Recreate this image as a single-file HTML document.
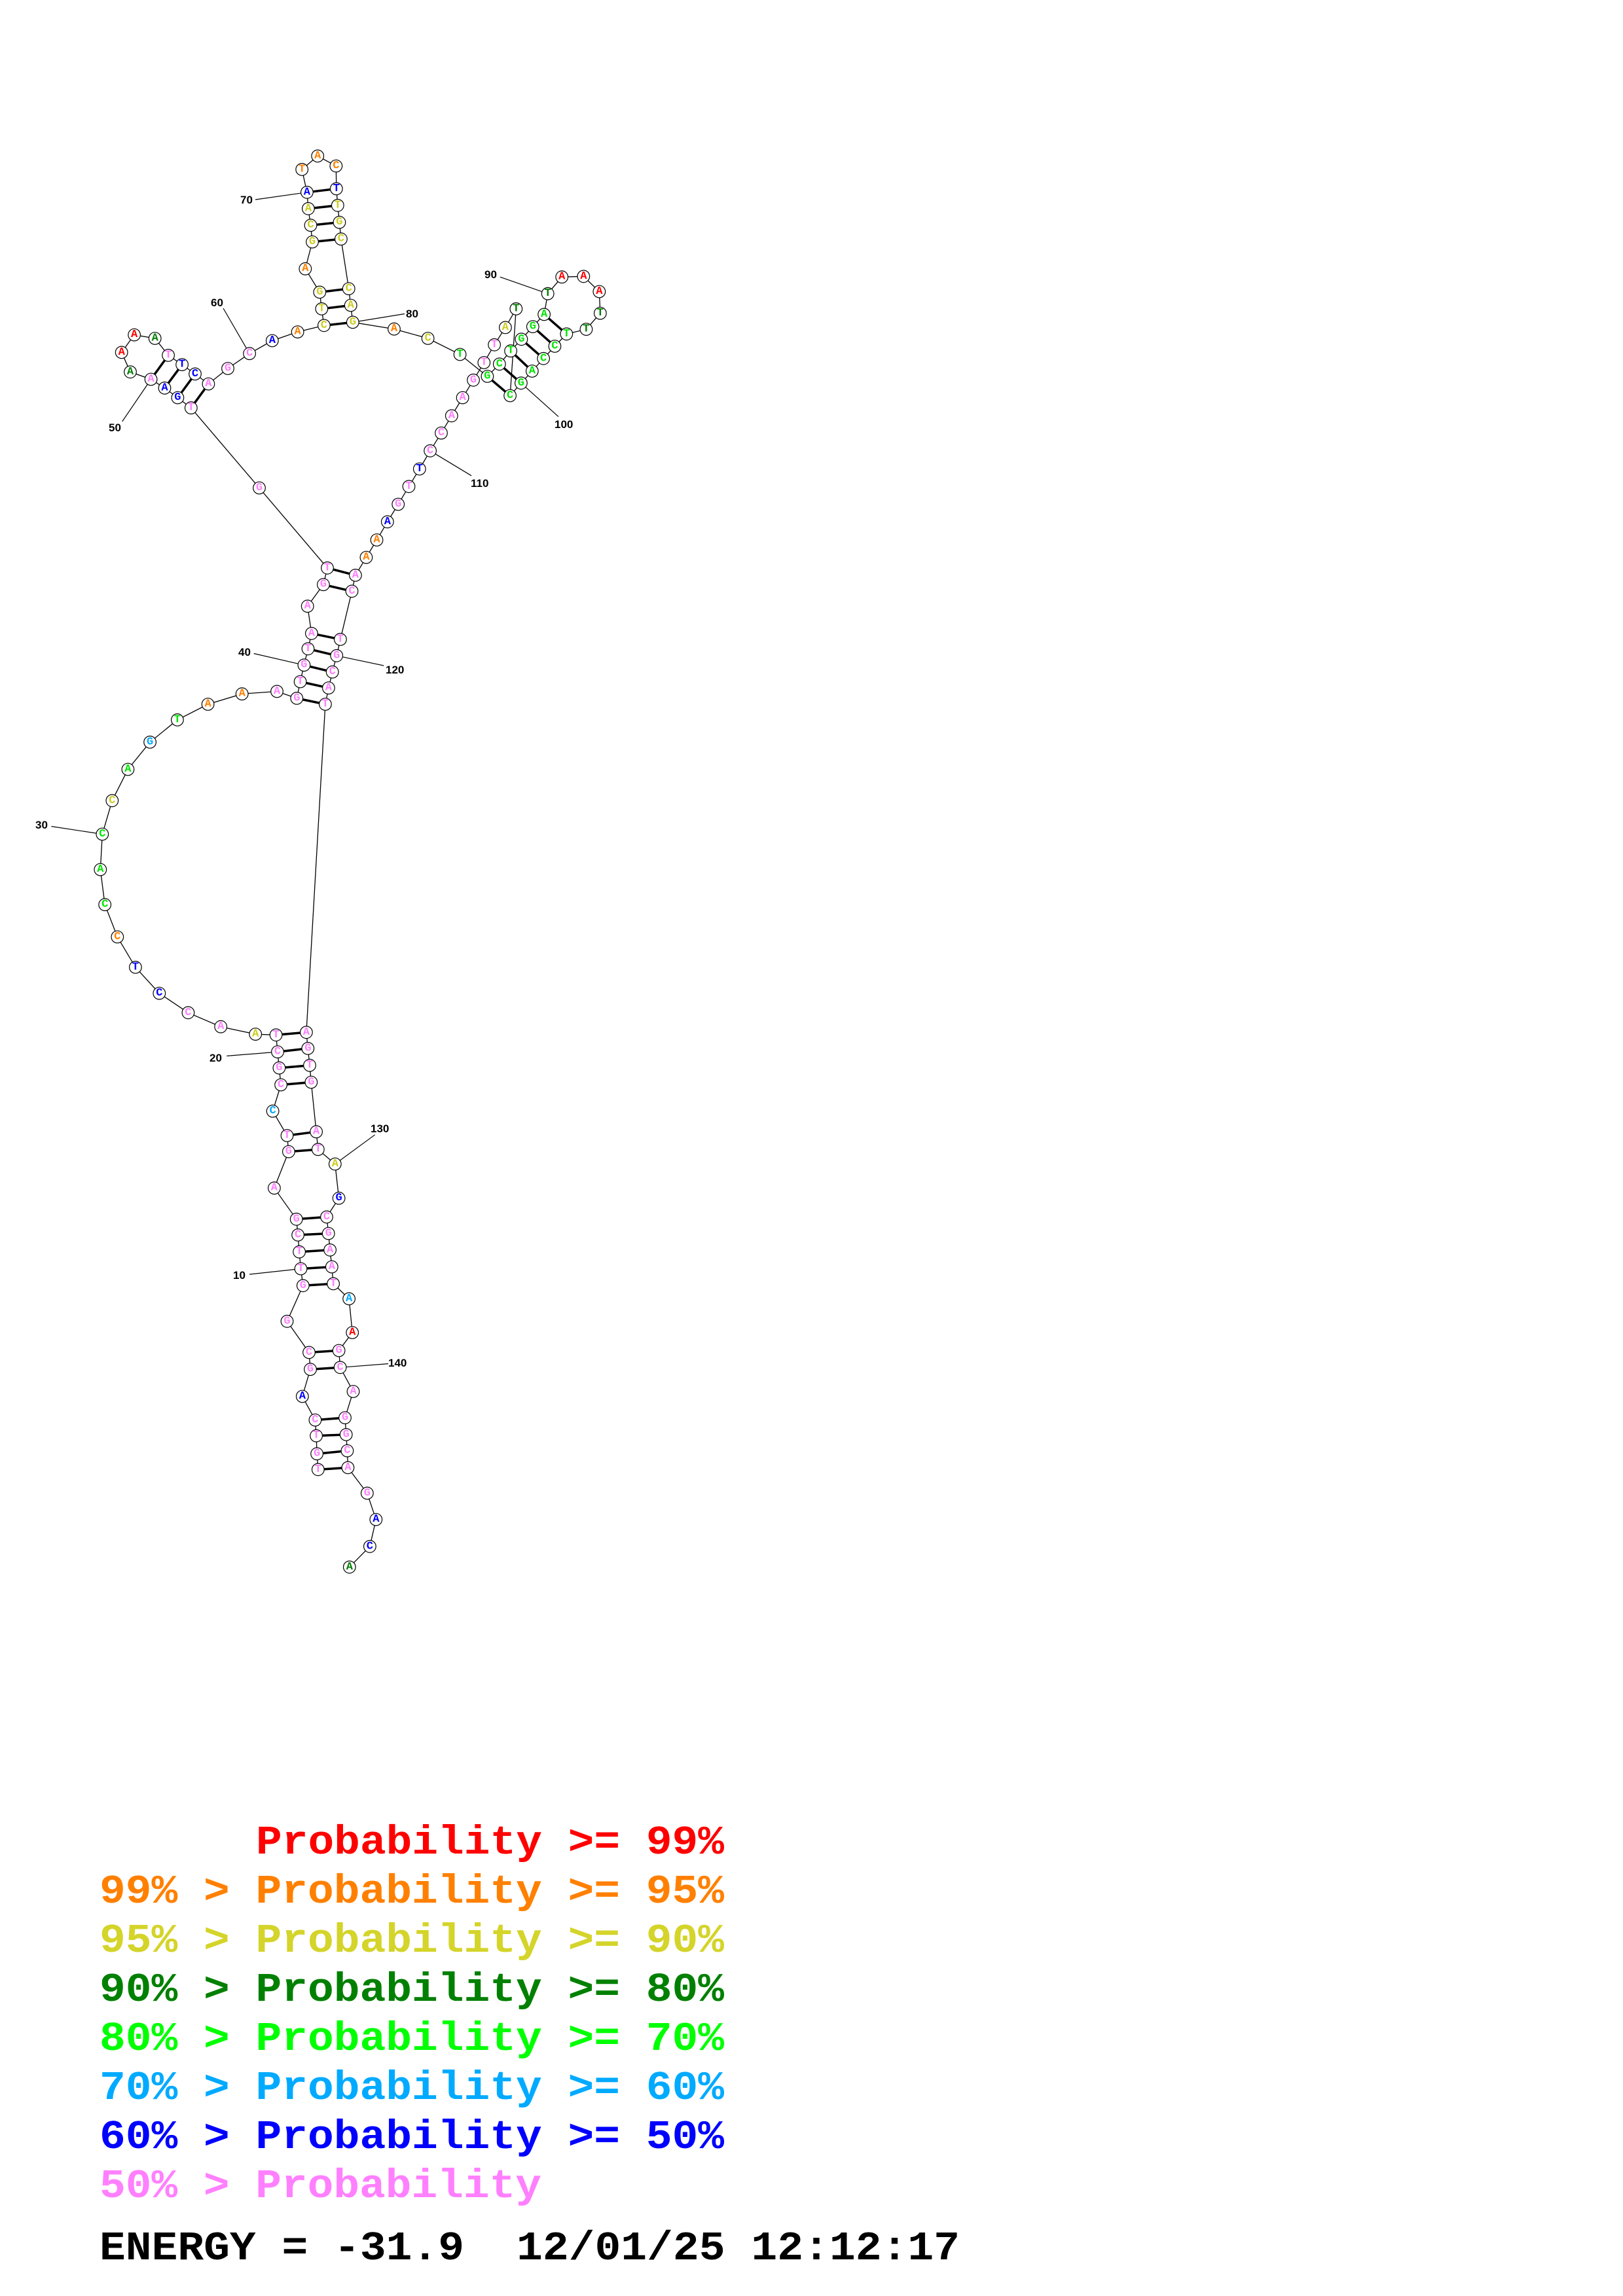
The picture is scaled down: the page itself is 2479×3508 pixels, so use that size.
<!DOCTYPE html>
<html><head><meta charset="utf-8"><style>
html,body{margin:0;padding:0;background:#fff}
svg{display:block}
.n circle{fill:#fff;stroke:#000;stroke-width:1.2}
.n text{font-family:"Liberation Mono",monospace;font-weight:bold;font-size:17px;text-anchor:middle;dominant-baseline:central}
.P{fill:#ff80ff}.B{fill:#0000ff}.O{fill:#ff8000}.Y{fill:#cccc22}.G{fill:#008000}.L{fill:#00e600}.C{fill:#00aaff}.R{fill:#ff0000}
.lab{font-family:"Liberation Sans",sans-serif;font-weight:bold;font-size:17px;fill:#000}
.leg{font-family:"Liberation Mono",monospace;font-weight:bold;font-size:62px}
</style></head><body>
<svg width="2479" height="3508" viewBox="0 0 2479 3508" xmlns="http://www.w3.org/2000/svg">
<rect width="2479" height="3508" fill="#fff"/>
<polyline fill="none" stroke="#000" stroke-width="1.3" points="485.8,2245.3 484.1,2221.2 483.1,2193.7 481.4,2169.6 461.8,2133.5 474,2092.2 472,2066.4 438.5,2018.8 462.8,1964.3 459.5,1938.5 457.1,1912.7 455.1,1886.9 452.7,1862.8 418.9,1815.2 440.9,1759.6 438.5,1735 416.6,1697.7 429.1,1657.5 426.4,1631.7 424,1607.1 421.6,1581.3 390.2,1580.1 337.2,1568.7 287.4,1547.3 243.3,1517.6 206.9,1477.9 179.3,1431.5 160.2,1382.2 153.3,1328.6 156.3,1274.5 171.3,1223.3 195.4,1175.5 229.1,1133.9 270.9,1099.9 317.6,1076 369.7,1060.2 423,1056.4 453.3,1066.9 458.6,1041.5 464.4,1016.2 470.5,991.3 475.9,967.8 469.7,926.2 493.9,893.2 500,867.8 396,745.5 291.8,623.2 271.4,607.6 251.5,592.9 230.6,579.5 199,568.3 185.7,538.4 205.1,511.6 236.7,517 257.1,542.9 278.1,557.1 298,571.4 318.4,586.6 348,563 381.1,540.2 415.8,520.5 454.6,507.1 494.9,497.3 491.3,471.9 488.3,446.4 466.3,410.7 477,369.6 474.5,344.2 470.9,318.8 468.9,293.8 461.2,258.9 485.2,238.4 513.3,253.6 513.8,288.4 515.8,313.8 518.4,339.7 520.9,365.2 532.7,441.1 535.7,466.5 538.8,492.4 602,502.7 653.6,517 702.6,541.5 744.4,575 762.8,556.3 780.1,536.2 796.4,518.3 813.8,499.1 831.1,480.4 836.7,448.7 858.2,423.2 891.3,422.3 915.3,445.5 916.8,478.6 895.4,503.1 865.3,510.3 847.4,529 830.1,547.8 812.8,567 795.9,585.3 779.1,604.5 788.3,471.9 771.9,500.4 755.1,526.8 739.3,554 723,580.8 706.6,607.6 689.8,635.3 674,661.6 657.1,688.8 640.8,716.5 624.5,743.3 608.2,770.5 591.8,797.3 575.5,825 559.4,851.6 542.9,878.9 537.5,903.3 519.9,976.9 514.2,1001.8 507.7,1026.7 501.9,1051.1 496.9,1076 467.9,1577.3 470.3,1601.9 473,1627.7 475.3,1653.5 483.1,1729.2 485.8,1756.2 511.8,1778.5 517.6,1830.7 499,1859.4 501.7,1884.6 504.1,1909.8 506.8,1935.6 509.1,1961.4 533.1,1984.4 538.2,2036 517.6,2063.5 519.6,2089.3 539.5,2126 527,2166.1 528.7,2191.9 530.4,2216.6 531.4,2242.4 560.8,2281.4 574.3,2321.6 564.9,2362.8 533.8,2394.3"/>
<g stroke="#000" stroke-width="3.5">
<line x1="485.8" y1="2245.3" x2="531.4" y2="2242.4"/><line x1="484.1" y1="2221.2" x2="530.4" y2="2216.6"/><line x1="483.1" y1="2193.7" x2="528.7" y2="2191.9"/><line x1="481.4" y1="2169.6" x2="527" y2="2166.1"/>
<line x1="474" y1="2092.2" x2="519.6" y2="2089.3"/><line x1="472" y1="2066.4" x2="517.6" y2="2063.5"/>
<line x1="462.8" y1="1964.3" x2="509.1" y2="1961.4"/><line x1="459.5" y1="1938.5" x2="506.8" y2="1935.6"/><line x1="457.1" y1="1912.7" x2="504.1" y2="1909.8"/><line x1="455.1" y1="1886.9" x2="501.7" y2="1884.6"/><line x1="452.7" y1="1862.8" x2="499" y2="1859.4"/>
<line x1="440.9" y1="1759.6" x2="485.8" y2="1756.2"/><line x1="438.5" y1="1735" x2="483.1" y2="1729.2"/>
<line x1="429.1" y1="1657.5" x2="475.3" y2="1653.5"/><line x1="426.4" y1="1631.7" x2="473" y2="1627.7"/><line x1="424" y1="1607.1" x2="470.3" y2="1601.9"/><line x1="421.6" y1="1581.3" x2="467.9" y2="1577.3"/>
<line x1="453.3" y1="1066.9" x2="496.9" y2="1076"/><line x1="458.6" y1="1041.5" x2="501.9" y2="1051.1"/><line x1="464.4" y1="1016.2" x2="507.7" y2="1026.7"/><line x1="470.5" y1="991.3" x2="514.2" y2="1001.8"/><line x1="475.9" y1="967.8" x2="519.9" y2="976.9"/>
<line x1="493.9" y1="893.2" x2="537.5" y2="903.3"/><line x1="500" y1="867.8" x2="542.9" y2="878.9"/>
<line x1="291.8" y1="623.2" x2="318.4" y2="586.6"/><line x1="271.4" y1="607.6" x2="298" y2="571.4"/><line x1="251.5" y1="592.9" x2="278.1" y2="557.1"/><line x1="230.6" y1="579.5" x2="257.1" y2="542.9"/>
<line x1="494.9" y1="497.3" x2="538.8" y2="492.4"/><line x1="491.3" y1="471.9" x2="535.7" y2="466.5"/><line x1="488.3" y1="446.4" x2="532.7" y2="441.1"/>
<line x1="477" y1="369.6" x2="520.9" y2="365.2"/><line x1="474.5" y1="344.2" x2="518.4" y2="339.7"/><line x1="470.9" y1="318.8" x2="515.8" y2="313.8"/><line x1="468.9" y1="293.8" x2="513.8" y2="288.4"/>
<line x1="744.4" y1="575" x2="779.1" y2="604.5"/><line x1="762.8" y1="556.3" x2="795.9" y2="585.3"/><line x1="780.1" y1="536.2" x2="812.8" y2="567"/><line x1="796.4" y1="518.3" x2="830.1" y2="547.8"/><line x1="813.8" y1="499.1" x2="847.4" y2="529"/><line x1="831.1" y1="480.4" x2="865.3" y2="510.3"/>
</g>
<g stroke="#000" stroke-width="1.2">
<line x1="390" y1="305" x2="468.9" y2="293.8"/>
<line x1="341" y1="471" x2="381.1" y2="540.2"/>
<line x1="186.7" y1="644" x2="230.6" y2="579.5"/>
<line x1="618" y1="479.5" x2="538.8" y2="492.4"/>
<line x1="763.8" y1="423.2" x2="836.7" y2="448.7"/>
<line x1="853" y1="636.6" x2="795.9" y2="585.3"/>
<line x1="720" y1="726.8" x2="657.1" y2="688.8"/>
<line x1="387.7" y1="998.5" x2="464.4" y2="1016.2"/>
<line x1="586.2" y1="1017" x2="514.2" y2="1001.8"/>
<line x1="78.5" y1="1262.6" x2="156.3" y2="1274.5"/>
<line x1="346.3" y1="1613.4" x2="424" y2="1607.1"/>
<line x1="381" y1="1947" x2="459.5" y2="1938.5"/>
<line x1="572.6" y1="1733.8" x2="511.8" y2="1778.5"/>
<line x1="593" y1="2083.6" x2="519.6" y2="2089.3"/>
</g>
<g class="lab">
<text x="367" y="311">70</text><text x="322" y="468">60</text><text x="166" y="659">50</text><text x="620" y="485">80</text>
<text x="740" y="425">90</text><text x="847" y="654">100</text><text x="719" y="744">110</text><text x="364" y="1002">40</text>
<text x="589" y="1029">120</text><text x="54" y="1266">30</text><text x="320" y="1622">20</text><text x="356" y="1954">10</text>
<text x="566" y="1730">130</text><text x="593" y="2088">140</text>
</g>
<g class="n">
<circle cx="485.8" cy="2245.3" r="9.3"/><text x="485.8" y="2245.3" class="P">T</text>
<circle cx="484.1" cy="2221.2" r="9.3"/><text x="484.1" y="2221.2" class="P">G</text>
<circle cx="483.1" cy="2193.7" r="9.3"/><text x="483.1" y="2193.7" class="P">T</text>
<circle cx="481.4" cy="2169.6" r="9.3"/><text x="481.4" y="2169.6" class="P">C</text>
<circle cx="461.8" cy="2133.5" r="9.3"/><text x="461.8" y="2133.5" class="B">A</text>
<circle cx="474" cy="2092.2" r="9.3"/><text x="474" y="2092.2" class="P">G</text>
<circle cx="472" cy="2066.4" r="9.3"/><text x="472" y="2066.4" class="P">C</text>
<circle cx="438.5" cy="2018.8" r="9.3"/><text x="438.5" y="2018.8" class="P">G</text>
<circle cx="462.8" cy="1964.3" r="9.3"/><text x="462.8" y="1964.3" class="P">G</text>
<circle cx="459.5" cy="1938.5" r="9.3"/><text x="459.5" y="1938.5" class="P">T</text>
<circle cx="457.1" cy="1912.7" r="9.3"/><text x="457.1" y="1912.7" class="P">T</text>
<circle cx="455.1" cy="1886.9" r="9.3"/><text x="455.1" y="1886.9" class="P">C</text>
<circle cx="452.7" cy="1862.8" r="9.3"/><text x="452.7" y="1862.8" class="P">G</text>
<circle cx="418.9" cy="1815.2" r="9.3"/><text x="418.9" y="1815.2" class="P">A</text>
<circle cx="440.9" cy="1759.6" r="9.3"/><text x="440.9" y="1759.6" class="P">G</text>
<circle cx="438.5" cy="1735" r="9.3"/><text x="438.5" y="1735" class="P">T</text>
<circle cx="416.6" cy="1697.7" r="9.3"/><text x="416.6" y="1697.7" class="C">C</text>
<circle cx="429.1" cy="1657.5" r="9.3"/><text x="429.1" y="1657.5" class="P">C</text>
<circle cx="426.4" cy="1631.7" r="9.3"/><text x="426.4" y="1631.7" class="P">G</text>
<circle cx="424" cy="1607.1" r="9.3"/><text x="424" y="1607.1" class="P">C</text>
<circle cx="421.6" cy="1581.3" r="9.3"/><text x="421.6" y="1581.3" class="P">T</text>
<circle cx="390.2" cy="1580.1" r="9.3"/><text x="390.2" y="1580.1" class="Y">A</text>
<circle cx="337.2" cy="1568.7" r="9.3"/><text x="337.2" y="1568.7" class="P">A</text>
<circle cx="287.4" cy="1547.3" r="9.3"/><text x="287.4" y="1547.3" class="P">C</text>
<circle cx="243.3" cy="1517.6" r="9.3"/><text x="243.3" y="1517.6" class="B">C</text>
<circle cx="206.9" cy="1477.9" r="9.3"/><text x="206.9" y="1477.9" class="B">T</text>
<circle cx="179.3" cy="1431.5" r="9.3"/><text x="179.3" y="1431.5" class="O">C</text>
<circle cx="160.2" cy="1382.2" r="9.3"/><text x="160.2" y="1382.2" class="L">C</text>
<circle cx="153.3" cy="1328.6" r="9.3"/><text x="153.3" y="1328.6" class="L">A</text>
<circle cx="156.3" cy="1274.5" r="9.3"/><text x="156.3" y="1274.5" class="L">C</text>
<circle cx="171.3" cy="1223.3" r="9.3"/><text x="171.3" y="1223.3" class="Y">C</text>
<circle cx="195.4" cy="1175.5" r="9.3"/><text x="195.4" y="1175.5" class="L">A</text>
<circle cx="229.1" cy="1133.9" r="9.3"/><text x="229.1" y="1133.9" class="C">G</text>
<circle cx="270.9" cy="1099.9" r="9.3"/><text x="270.9" y="1099.9" class="L">T</text>
<circle cx="317.6" cy="1076" r="9.3"/><text x="317.6" y="1076" class="O">A</text>
<circle cx="369.7" cy="1060.2" r="9.3"/><text x="369.7" y="1060.2" class="O">A</text>
<circle cx="423" cy="1056.4" r="9.3"/><text x="423" y="1056.4" class="P">A</text>
<circle cx="453.3" cy="1066.9" r="9.3"/><text x="453.3" y="1066.9" class="P">G</text>
<circle cx="458.6" cy="1041.5" r="9.3"/><text x="458.6" y="1041.5" class="P">T</text>
<circle cx="464.4" cy="1016.2" r="9.3"/><text x="464.4" y="1016.2" class="P">G</text>
<circle cx="470.5" cy="991.3" r="9.3"/><text x="470.5" y="991.3" class="P">T</text>
<circle cx="475.9" cy="967.8" r="9.3"/><text x="475.9" y="967.8" class="P">A</text>
<circle cx="469.7" cy="926.2" r="9.3"/><text x="469.7" y="926.2" class="P">A</text>
<circle cx="493.9" cy="893.2" r="9.3"/><text x="493.9" y="893.2" class="P">G</text>
<circle cx="500" cy="867.8" r="9.3"/><text x="500" y="867.8" class="P">T</text>
<circle cx="396" cy="745.5" r="9.3"/><text x="396" y="745.5" class="P">G</text>
<circle cx="291.8" cy="623.2" r="9.3"/><text x="291.8" y="623.2" class="P">T</text>
<circle cx="271.4" cy="607.6" r="9.3"/><text x="271.4" y="607.6" class="B">G</text>
<circle cx="251.5" cy="592.9" r="9.3"/><text x="251.5" y="592.9" class="B">A</text>
<circle cx="230.6" cy="579.5" r="9.3"/><text x="230.6" y="579.5" class="P">A</text>
<circle cx="199" cy="568.3" r="9.3"/><text x="199" y="568.3" class="G">A</text>
<circle cx="185.7" cy="538.4" r="9.3"/><text x="185.7" y="538.4" class="R">A</text>
<circle cx="205.1" cy="511.6" r="9.3"/><text x="205.1" y="511.6" class="R">A</text>
<circle cx="236.7" cy="517" r="9.3"/><text x="236.7" y="517" class="G">A</text>
<circle cx="257.1" cy="542.9" r="9.3"/><text x="257.1" y="542.9" class="P">T</text>
<circle cx="278.1" cy="557.1" r="9.3"/><text x="278.1" y="557.1" class="B">T</text>
<circle cx="298" cy="571.4" r="9.3"/><text x="298" y="571.4" class="B">C</text>
<circle cx="318.4" cy="586.6" r="9.3"/><text x="318.4" y="586.6" class="P">A</text>
<circle cx="348" cy="563" r="9.3"/><text x="348" y="563" class="P">G</text>
<circle cx="381.1" cy="540.2" r="9.3"/><text x="381.1" y="540.2" class="P">C</text>
<circle cx="415.8" cy="520.5" r="9.3"/><text x="415.8" y="520.5" class="B">A</text>
<circle cx="454.6" cy="507.1" r="9.3"/><text x="454.6" y="507.1" class="O">A</text>
<circle cx="494.9" cy="497.3" r="9.3"/><text x="494.9" y="497.3" class="Y">C</text>
<circle cx="491.3" cy="471.9" r="9.3"/><text x="491.3" y="471.9" class="Y">T</text>
<circle cx="488.3" cy="446.4" r="9.3"/><text x="488.3" y="446.4" class="Y">G</text>
<circle cx="466.3" cy="410.7" r="9.3"/><text x="466.3" y="410.7" class="O">A</text>
<circle cx="477" cy="369.6" r="9.3"/><text x="477" y="369.6" class="Y">G</text>
<circle cx="474.5" cy="344.2" r="9.3"/><text x="474.5" y="344.2" class="Y">C</text>
<circle cx="470.9" cy="318.8" r="9.3"/><text x="470.9" y="318.8" class="Y">A</text>
<circle cx="468.9" cy="293.8" r="9.3"/><text x="468.9" y="293.8" class="B">A</text>
<circle cx="461.2" cy="258.9" r="9.3"/><text x="461.2" y="258.9" class="O">T</text>
<circle cx="485.2" cy="238.4" r="9.3"/><text x="485.2" y="238.4" class="O">A</text>
<circle cx="513.3" cy="253.6" r="9.3"/><text x="513.3" y="253.6" class="O">C</text>
<circle cx="513.8" cy="288.4" r="9.3"/><text x="513.8" y="288.4" class="B">T</text>
<circle cx="515.8" cy="313.8" r="9.3"/><text x="515.8" y="313.8" class="Y">T</text>
<circle cx="518.4" cy="339.7" r="9.3"/><text x="518.4" y="339.7" class="Y">G</text>
<circle cx="520.9" cy="365.2" r="9.3"/><text x="520.9" y="365.2" class="Y">C</text>
<circle cx="532.7" cy="441.1" r="9.3"/><text x="532.7" y="441.1" class="Y">C</text>
<circle cx="535.7" cy="466.5" r="9.3"/><text x="535.7" y="466.5" class="Y">A</text>
<circle cx="538.8" cy="492.4" r="9.3"/><text x="538.8" y="492.4" class="Y">G</text>
<circle cx="602" cy="502.7" r="9.3"/><text x="602" y="502.7" class="O">A</text>
<circle cx="653.6" cy="517" r="9.3"/><text x="653.6" y="517" class="Y">C</text>
<circle cx="702.6" cy="541.5" r="9.3"/><text x="702.6" y="541.5" class="L">T</text>
<circle cx="744.4" cy="575" r="9.3"/><text x="744.4" y="575" class="L">G</text>
<circle cx="762.8" cy="556.3" r="9.3"/><text x="762.8" y="556.3" class="L">C</text>
<circle cx="780.1" cy="536.2" r="9.3"/><text x="780.1" y="536.2" class="L">T</text>
<circle cx="796.4" cy="518.3" r="9.3"/><text x="796.4" y="518.3" class="L">G</text>
<circle cx="813.8" cy="499.1" r="9.3"/><text x="813.8" y="499.1" class="L">G</text>
<circle cx="831.1" cy="480.4" r="9.3"/><text x="831.1" y="480.4" class="L">A</text>
<circle cx="836.7" cy="448.7" r="9.3"/><text x="836.7" y="448.7" class="G">T</text>
<circle cx="858.2" cy="423.2" r="9.3"/><text x="858.2" y="423.2" class="R">A</text>
<circle cx="891.3" cy="422.3" r="9.3"/><text x="891.3" y="422.3" class="R">A</text>
<circle cx="915.3" cy="445.5" r="9.3"/><text x="915.3" y="445.5" class="R">A</text>
<circle cx="916.8" cy="478.6" r="9.3"/><text x="916.8" y="478.6" class="G">T</text>
<circle cx="895.4" cy="503.1" r="9.3"/><text x="895.4" y="503.1" class="G">T</text>
<circle cx="865.3" cy="510.3" r="9.3"/><text x="865.3" y="510.3" class="L">T</text>
<circle cx="847.4" cy="529" r="9.3"/><text x="847.4" y="529" class="L">C</text>
<circle cx="830.1" cy="547.8" r="9.3"/><text x="830.1" y="547.8" class="L">C</text>
<circle cx="812.8" cy="567" r="9.3"/><text x="812.8" y="567" class="L">A</text>
<circle cx="795.9" cy="585.3" r="9.3"/><text x="795.9" y="585.3" class="L">G</text>
<circle cx="779.1" cy="604.5" r="9.3"/><text x="779.1" y="604.5" class="L">C</text>
<circle cx="788.3" cy="471.9" r="9.3"/><text x="788.3" y="471.9" class="G">T</text>
<circle cx="771.9" cy="500.4" r="9.3"/><text x="771.9" y="500.4" class="Y">A</text>
<circle cx="755.1" cy="526.8" r="9.3"/><text x="755.1" y="526.8" class="P">T</text>
<circle cx="739.3" cy="554" r="9.3"/><text x="739.3" y="554" class="P">T</text>
<circle cx="723" cy="580.8" r="9.3"/><text x="723" y="580.8" class="P">G</text>
<circle cx="706.6" cy="607.6" r="9.3"/><text x="706.6" y="607.6" class="P">A</text>
<circle cx="689.8" cy="635.3" r="9.3"/><text x="689.8" y="635.3" class="P">A</text>
<circle cx="674" cy="661.6" r="9.3"/><text x="674" y="661.6" class="P">C</text>
<circle cx="657.1" cy="688.8" r="9.3"/><text x="657.1" y="688.8" class="P">C</text>
<circle cx="640.8" cy="716.5" r="9.3"/><text x="640.8" y="716.5" class="B">T</text>
<circle cx="624.5" cy="743.3" r="9.3"/><text x="624.5" y="743.3" class="P">T</text>
<circle cx="608.2" cy="770.5" r="9.3"/><text x="608.2" y="770.5" class="P">G</text>
<circle cx="591.8" cy="797.3" r="9.3"/><text x="591.8" y="797.3" class="B">A</text>
<circle cx="575.5" cy="825" r="9.3"/><text x="575.5" y="825" class="O">A</text>
<circle cx="559.4" cy="851.6" r="9.3"/><text x="559.4" y="851.6" class="O">A</text>
<circle cx="542.9" cy="878.9" r="9.3"/><text x="542.9" y="878.9" class="P">A</text>
<circle cx="537.5" cy="903.3" r="9.3"/><text x="537.5" y="903.3" class="P">C</text>
<circle cx="519.9" cy="976.9" r="9.3"/><text x="519.9" y="976.9" class="P">T</text>
<circle cx="514.2" cy="1001.8" r="9.3"/><text x="514.2" y="1001.8" class="P">G</text>
<circle cx="507.7" cy="1026.7" r="9.3"/><text x="507.7" y="1026.7" class="P">C</text>
<circle cx="501.9" cy="1051.1" r="9.3"/><text x="501.9" y="1051.1" class="P">A</text>
<circle cx="496.9" cy="1076" r="9.3"/><text x="496.9" y="1076" class="P">T</text>
<circle cx="467.9" cy="1577.3" r="9.3"/><text x="467.9" y="1577.3" class="P">A</text>
<circle cx="470.3" cy="1601.9" r="9.3"/><text x="470.3" y="1601.9" class="P">G</text>
<circle cx="473" cy="1627.7" r="9.3"/><text x="473" y="1627.7" class="P">T</text>
<circle cx="475.3" cy="1653.5" r="9.3"/><text x="475.3" y="1653.5" class="P">G</text>
<circle cx="483.1" cy="1729.2" r="9.3"/><text x="483.1" y="1729.2" class="P">A</text>
<circle cx="485.8" cy="1756.2" r="9.3"/><text x="485.8" y="1756.2" class="P">T</text>
<circle cx="511.8" cy="1778.5" r="9.3"/><text x="511.8" y="1778.5" class="Y">A</text>
<circle cx="517.6" cy="1830.7" r="9.3"/><text x="517.6" y="1830.7" class="B">G</text>
<circle cx="499" cy="1859.4" r="9.3"/><text x="499" y="1859.4" class="P">C</text>
<circle cx="501.7" cy="1884.6" r="9.3"/><text x="501.7" y="1884.6" class="P">G</text>
<circle cx="504.1" cy="1909.8" r="9.3"/><text x="504.1" y="1909.8" class="P">A</text>
<circle cx="506.8" cy="1935.6" r="9.3"/><text x="506.8" y="1935.6" class="P">A</text>
<circle cx="509.1" cy="1961.4" r="9.3"/><text x="509.1" y="1961.4" class="P">T</text>
<circle cx="533.1" cy="1984.4" r="9.3"/><text x="533.1" y="1984.4" class="C">A</text>
<circle cx="538.2" cy="2036" r="9.3"/><text x="538.2" y="2036" class="R">A</text>
<circle cx="517.6" cy="2063.5" r="9.3"/><text x="517.6" y="2063.5" class="P">G</text>
<circle cx="519.6" cy="2089.3" r="9.3"/><text x="519.6" y="2089.3" class="P">C</text>
<circle cx="539.5" cy="2126" r="9.3"/><text x="539.5" y="2126" class="P">A</text>
<circle cx="527" cy="2166.1" r="9.3"/><text x="527" y="2166.1" class="P">G</text>
<circle cx="528.7" cy="2191.9" r="9.3"/><text x="528.7" y="2191.9" class="P">G</text>
<circle cx="530.4" cy="2216.6" r="9.3"/><text x="530.4" y="2216.6" class="P">C</text>
<circle cx="531.4" cy="2242.4" r="9.3"/><text x="531.4" y="2242.4" class="P">A</text>
<circle cx="560.8" cy="2281.4" r="9.3"/><text x="560.8" y="2281.4" class="P">G</text>
<circle cx="574.3" cy="2321.6" r="9.3"/><text x="574.3" y="2321.6" class="B">A</text>
<circle cx="564.9" cy="2362.8" r="9.3"/><text x="564.9" y="2362.8" class="B">C</text>
<circle cx="533.8" cy="2394.3" r="9.3"/><text x="533.8" y="2394.3" class="G">A</text>
</g>
<g class="leg">
<text x="391" y="2832" fill="#ff0000" textLength="715" lengthAdjust="spacingAndGlyphs">Probability &gt;= 99%</text>
<text x="152" y="2907" fill="#ff8000" textLength="954" lengthAdjust="spacingAndGlyphs">99% &gt; Probability &gt;= 95%</text>
<text x="152" y="2982" fill="#d4d42a" textLength="954" lengthAdjust="spacingAndGlyphs">95% &gt; Probability &gt;= 90%</text>
<text x="152" y="3057" fill="#008000" textLength="954" lengthAdjust="spacingAndGlyphs">90% &gt; Probability &gt;= 80%</text>
<text x="152" y="3132" fill="#00ff00" textLength="954" lengthAdjust="spacingAndGlyphs">80% &gt; Probability &gt;= 70%</text>
<text x="152" y="3207" fill="#00aaff" textLength="954" lengthAdjust="spacingAndGlyphs">70% &gt; Probability &gt;= 60%</text>
<text x="152" y="3282" fill="#0000ff" textLength="954" lengthAdjust="spacingAndGlyphs">60% &gt; Probability &gt;= 50%</text>
<text x="152" y="3357" fill="#ff80ff" textLength="675" lengthAdjust="spacingAndGlyphs">50% &gt; Probability</text>
<text x="152" y="3452" fill="#000" textLength="557" lengthAdjust="spacingAndGlyphs">ENERGY = -31.9</text>
<text x="789" y="3452" fill="#000" textLength="677" lengthAdjust="spacingAndGlyphs">12/01/25 12:12:17</text>
</g>
</svg>
</body></html>
